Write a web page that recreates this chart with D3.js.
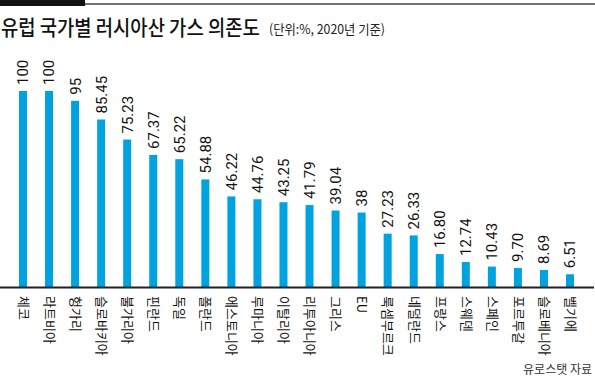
<!DOCTYPE html>
<html><head><meta charset="utf-8">
<script src="https://cdn.jsdelivr.net/npm/d3@7"></script>
<style>
html,body{margin:0;padding:0;background:#fff;}
svg{display:block;}
</style></head>
<body>
<svg id="chart" width="595" height="379"></svg>
<script>
const categories = ["체코","라트비아","헝가리","슬로바키아","불가리아","핀란드","독일","폴란드","에스토니아","루마니아","이탈리아","리투아니아","그리스","EU","룩셈부르크","네덜란드","프랑스","스웨덴","스페인","포르투갈","슬로베니아","벨기에"];
const values = [100,100,95,85.45,75.23,67.37,65.22,54.88,46.22,44.76,43.25,41.79,39.04,38,27.23,26.33,16.80,12.74,10.43,9.70,8.69,6.51];
const valueLabels = ["100","100","95","85.45","75.23","67.37","65.22","54.88","46.22","44.76","43.25","41.79","39.04","38","27.23","26.33","16.80","12.74","10.43","9.70","8.69","6.51"];
const titleText = "유럽 국가별 러시아산 가스 의존도";
const subtitleText = "(단위:%, 2020년 기준)";
const sourceText = "유로스탯 자료";

const svg = d3.select("#chart");
const W = 595, H = 379;
const barColor = "#00a3e0";
const ff = "'Noto Sans CJK KR','Noto Sans',sans-serif";

// top rule
svg.append("line").attr("x1",0).attr("x2",W).attr("y1",4).attr("y2",4)
  .attr("stroke","#444").attr("stroke-width",1.5);
svg.append("rect").attr("x",0).attr("y",0).attr("width",85).attr("height",6).attr("fill","#111");

// title (condensed via horizontal scale to fit measured width)
function condensedText(txt, x0, y0, size, weight, fill, targetW){
  const t = svg.append("text").attr("x",0).attr("y",0).text(txt)
    .attr("font-family",ff).attr("font-size",size).attr("font-weight",weight).attr("fill",fill);
  const len = t.node().getComputedTextLength();
  t.attr("transform",`translate(${x0},${y0}) scale(${targetW/len},1)`);
  return t;
}
condensedText(titleText, 1, 35, 21, 500, "#111", 259);
condensedText(subtitleText, 269, 34, 13, 400, "#222", 116);

const x = d3.scalePoint().domain(categories).range([23,570]);
const y = d3.scaleLinear().domain([0,100]).range([287,91]);
const bw = 8;

const data = categories.map((c,i)=>({c, v:values[i], l:valueLabels[i]}));

svg.append("g").selectAll("rect").data(data).join("rect")
  .attr("x",d=>x(d.c)-bw/2).attr("y",d=>y(d.v))
  .attr("width",bw).attr("height",d=>y(0)-y(d.v))
  .attr("fill",barColor);

// value labels
svg.append("g").selectAll("text").data(data).join("text")
  .attr("transform",d=>`translate(${x(d.c)},${y(d.v)-6}) rotate(-90)`)
  .attr("dy","0.36em")
  .attr("font-family","Roboto, 'Noto Sans', sans-serif").attr("font-size",15)
  .attr("fill","#111")
  .text(d=>d.l);

// baseline axis
const axis = d3.axisBottom(x).tickSize(0).tickPadding(0);
const gAxis = svg.append("g").attr("transform",`translate(0,${y(0)})`).call(axis);
gAxis.select(".domain").remove();
svg.append("line").attr("x1",0).attr("x2",594).attr("y1",y(0)+0.5).attr("y2",y(0)+0.5)
  .attr("stroke","#222").attr("stroke-width",2);
gAxis.selectAll(".tick text")
  .attr("transform","translate(0,9) rotate(90)")
  .attr("x",0).attr("y",0).attr("dy","0.36em")
  .attr("text-anchor","start")
  .attr("font-family",ff).attr("font-size",13).attr("fill","#111");

// source
svg.append("text").attr("x",592).attr("y",374).attr("text-anchor","end").text(sourceText)
  .attr("font-family",ff).attr("font-size",12).attr("fill","#333");
</script>
</body></html>
